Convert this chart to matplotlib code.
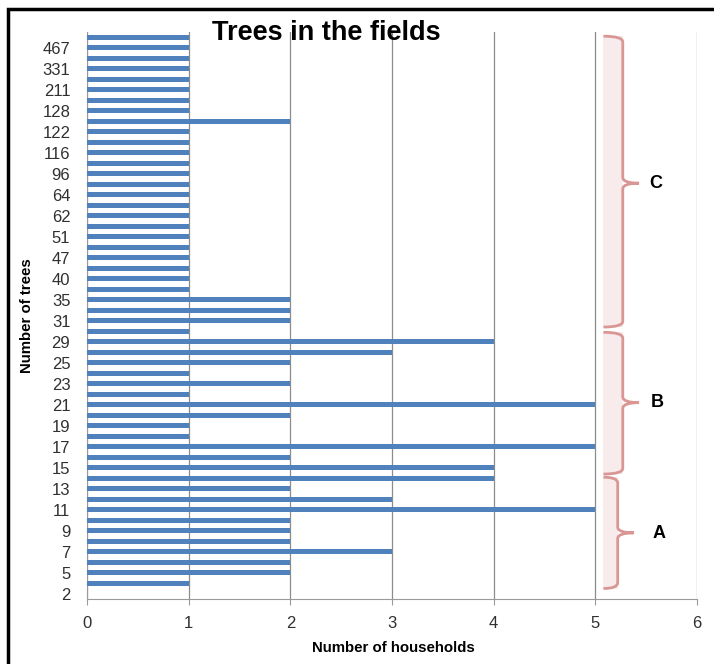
import matplotlib
matplotlib.use('Agg')
import matplotlib.pyplot as plt
from matplotlib.path import Path
from matplotlib.patches import PathPatch, Rectangle
import numpy as np

# %%
# Data: number of trees per household (category) and how many households
# -----------------------------------------------------------------------

trees = ['2', '4', '5', '6', '7', '8', '9', '10', '11', '12', '13', '14',
         '15', '16', '17', '18', '19', '20', '21', '22', '23', '24', '25',
         '27', '29', '30', '31', '33', '35', '37', '40', '42', '47', '50',
         '51', '56', '62', '63', '64', '80', '96', '100', '116', '120',
         '122', '125', '128', '150', '211', '300', '331', '400', '467', '500']
households = [0, 1, 2, 2, 3, 2, 2, 2, 5, 3, 2, 4,
              4, 2, 5, 1, 1, 2, 5, 1, 2, 1, 2,
              3, 4, 1, 2, 2, 2, 1, 1, 1, 1, 1,
              1, 1, 1, 1, 1, 1, 1, 1, 1, 1,
              1, 2, 1, 1, 1, 1, 1, 1, 1, 1]

plt.rcParams['font.family'] = ['Liberation Sans', 'DejaVu Sans']

fig = plt.figure(figsize=(7.14, 6.64), dpi=100)
ax = fig.add_axes([87 / 714, 65 / 664, 610 / 714, 567 / 664])

pos = np.arange(len(trees))
ax.barh(pos, households, height=0.48, color='#4F81BD', zorder=3)

ax.set_xlim(0, 6)
ax.set_ylim(-0.5, len(trees) - 0.5)
ax.set_xticks(range(7))
ax.set_yticks(pos)
ax.set_yticklabels([t if i % 2 == 0 else '' for i, t in enumerate(trees)])
ax.tick_params(axis='y', length=0, pad=12, labelsize=12, labelcolor='#303030')
ax.tick_params(axis='x', length=4, color='#9a9a9a', pad=8, labelsize=12,
               labelcolor='#303030')
ax.xaxis.grid(True, color='#8c8c8c', linewidth=0.9, zorder=0)
for s in ['top', 'right']:
    ax.spines[s].set_visible(False)
for s in ['left', 'bottom']:
    ax.spines[s].set_color('#9a9a9a')
ax.set_xlabel('Number of households', fontweight='bold', fontsize=10.8)
ax.xaxis.set_label_coords((393 - 87) / 610, -(641 - 599) / 567)
ax.set_ylabel('Number of trees', fontweight='bold', fontsize=10.8)
ax.yaxis.set_label_coords((34 - 87) / 610, (599 - 316) / 567)

# %%
# Curly braces on the right side
# ------------------------------

def brace(ax, y0, y1, tip_y, xl, xr, xt, r=0.55, color='#D99694'):
    ax.add_patch(Rectangle((xl, y0), xr - xl, y1 - y0, facecolor='#F2DCDB',
                           alpha=0.55, edgecolor='none', zorder=1))
    verts = [(xl, y1), (xr, y1), (xr, y1 - r),
             (xr, tip_y + r),
             (xr, tip_y), (xt, tip_y),
             (xr, tip_y), (xr, tip_y - r),
             (xr, y0 + r),
             (xr, y0), (xl, y0)]
    codes = [Path.MOVETO, Path.CURVE3, Path.CURVE3,
             Path.LINETO,
             Path.CURVE3, Path.CURVE3,
             Path.CURVE3, Path.CURVE3,
             Path.LINETO,
             Path.CURVE3, Path.CURVE3]
    ax.add_patch(PathPatch(Path(verts, codes), facecolor='none', edgecolor=color,
                           linewidth=2, zorder=4, clip_on=False))


brace(ax, 0.5, 11.1, 5.8, 5.08, 5.22, 5.38)
brace(ax, 11.4, 24.9, 18.2, 5.08, 5.27, 5.43)
brace(ax, 25.4, 53.1, 39.1, 5.08, 5.27, 5.43)
for label, x, y in [('A', 5.63, 5.7), ('B', 5.61, 18.2), ('C', 5.59, 39.1)]:
    ax.text(x, y, label, fontsize=13, fontweight='bold', va='center', ha='center')

fig.text(326 / 714, 1 - 33 / 664, 'Trees in the fields', ha='center', va='center',
         fontsize=19.5, fontweight='bold')

# outer frame
fig.add_artist(Rectangle((7.5 / 714, -0.05), 1.0, 1 - 9 / 664 + 0.05,
                         transform=fig.transFigure, fill=False,
                         edgecolor='black', linewidth=2.5))

fig.savefig('out.png', dpi=100)
